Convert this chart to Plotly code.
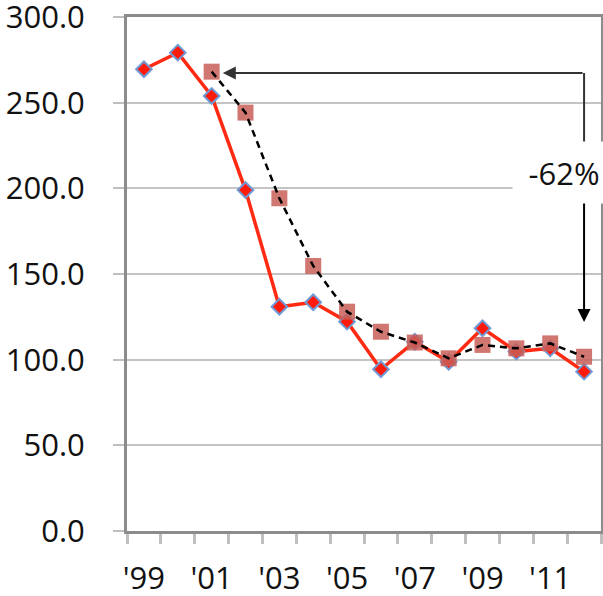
import plotly.graph_objects as go

years = list(range(1999, 2013))
actual = [269.5, 279.2, 253.9, 199.0, 130.9, 133.5, 122.2, 94.4, 110.5, 98.8, 118.3, 104.7, 106.6, 93.0]
avg_years = list(range(2001, 2013))
moving_avg = [268.1, 244.2, 194.2, 154.7, 128.0, 116.3, 110.0, 100.8, 108.6, 106.6, 109.5, 101.7]
tick_years = [1999, 2001, 2003, 2005, 2007, 2009, 2011]
tick_text = ["'99", "'01", "'03", "'05", "'07", "'09", "'11"]
y_ticks = [0, 50, 100, 150, 200, 250, 300]
y_text = ["0.0", "50.0", "100.0", "150.0", "200.0", "250.0", "300.0"]

FONT = dict(family="Open Sans", size=31, color="#111111")

fig = go.Figure()
fig.add_trace(go.Scatter(
    x=years, y=actual, mode="lines+markers",
    line=dict(color="#ff2a12", width=3.5),
    marker=dict(symbol="diamond", size=12, color="#ff1a0a",
                line=dict(color="#6f9ad6", width=2)),
    showlegend=False))
fig.add_trace(go.Scatter(
    x=avg_years, y=moving_avg, mode="markers",
    marker=dict(symbol="square", size=16, color="rgba(200,95,88,0.85)"),
    showlegend=False))
fig.add_trace(go.Scatter(
    x=avg_years, y=moving_avg, mode="lines",
    line=dict(color="black", width=2.5, dash="7px,5px"),
    showlegend=False))

# arrow annotations
fig.add_annotation(x=2001.33, y=267.3, ax=2012, ay=267.3, xref="x", yref="y",
                   axref="x", ayref="y", text="", showarrow=True,
                   arrowhead=2, arrowsize=1.3, arrowwidth=2, arrowcolor="#333333")
fig.add_shape(type="line", x0=2012, x1=2012, y0=267.3, y1=215,
              xref="x", yref="y", line=dict(color="#333333", width=2))
fig.add_annotation(x=2012, y=122, ax=2012, ay=215, xref="x", yref="y",
                   axref="x", ayref="y", text="", showarrow=True,
                   arrowhead=2, arrowsize=1.3, arrowwidth=2, arrowcolor="black")
fig.add_annotation(x=0.922, y=0.698, xref="paper", yref="paper", text="-62%",
                   xanchor="center", yanchor="middle",
                   showarrow=False, bgcolor="white", width=100, height=59,
                   font=FONT)

fig.update_xaxes(range=[1998.5, 2012.5], tickmode="array", tickvals=tick_years,
                 ticktext=tick_text, ticks="", showgrid=False, automargin=False,
                 showline=True, linecolor="#8c8c8c", linewidth=3, mirror=True,
                 ticklabelstandoff=18, ticklabeloverflow="allow",
                 minor=dict(ticks="outside", tick0=1998.5, dtick=1, ticklen=10,
                            tickwidth=3, tickcolor="#bfbfbf", showgrid=False),
                 tickfont=FONT, zeroline=False)
fig.update_yaxes(range=[0, 300], tickmode="array", tickvals=y_ticks, ticktext=y_text,
                 ticks="outside", ticklen=11, tickwidth=2, tickcolor="#bfbfbf",
                 showgrid=True, gridcolor="#c4c4c4", gridwidth=2, automargin=False,
                 showline=True, linecolor="#8c8c8c", linewidth=3, mirror=True,
                 ticklabelstandoff=22, zeroline=False, tickfont=FONT,
                 ticklabeloverflow="allow")
fig.update_layout(width=603, height=596, margin=dict(l=127, r=2, t=17, b=65),
                  plot_bgcolor="white", paper_bgcolor="white")
fig.write_html("out.html", config={"displayModeBar": False},
               post_script="document.body.style.margin='0';")
